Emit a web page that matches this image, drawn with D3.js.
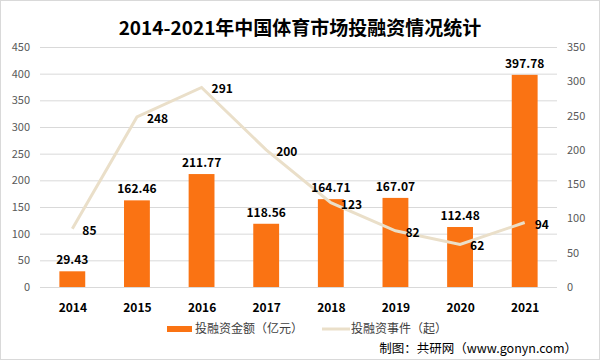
<!DOCTYPE html>
<html><head><meta charset="utf-8">
<script src="https://cdn.jsdelivr.net/npm/d3@7"></script>
<style>
html,body{margin:0;padding:0;background:#fff;}
svg{display:block;}
</style></head>
<body>
<svg id="c" width="600" height="360"></svg>
<script>
const years = ["2014","2015","2016","2017","2018","2019","2020","2021"];
const amounts = [29.43,162.46,211.77,118.56,164.71,167.07,112.48,397.78];
const events = [85,248,291,200,123,82,62,94];
const leftTicks = [0,50,100,150,200,250,300,350,400,450];
const rightTicks = [0,50,100,150,200,250,300,350];
const title = "2014-2021年中国体育市场投融资情况统计";
const legendBar = "投融资金额（亿元）";
const legendLine = "投融资事件（起）";
const source = "制图：共研网（www.gonyn.com）";

const svg = d3.select("#c");
const W = 600, H = 360;
const m = {l:40, r:43, t:47, b:73};
const pw = W - m.l - m.r, ph = H - m.t - m.b;
const font = "'Noto Sans CJK SC','Liberation Sans',sans-serif";

svg.append("rect").attr("x",0.5).attr("y",0.5).attr("width",W-1).attr("height",H-1)
  .attr("fill","#fff").attr("stroke","#d9d9d9");

const x = d3.scaleBand().domain(years).range([m.l, m.l+pw]).paddingInner(0.6).paddingOuter(0.3);
const xc = d3.scalePoint().domain(years).range([m.l, m.l+pw]).padding(0.5);
const yL = d3.scaleLinear().domain([0,450]).range([m.t+ph, m.t]);
const yR = d3.scaleLinear().domain([0,350]).range([m.t+ph, m.t]);

// grid
svg.append("g").selectAll("line").data(leftTicks).join("line")
  .attr("x1",m.l).attr("x2",m.l+pw)
  .attr("y1",d=>yL(d)+0.5).attr("y2",d=>yL(d)+0.5)
  .attr("stroke","#d9d9d9").attr("stroke-width",1);

// left axis
const ga = svg.append("g").attr("transform",`translate(${m.l-10},0)`)
  .call(d3.axisLeft(yL).tickValues(leftTicks).tickSize(0).tickPadding(0));
ga.select(".domain").remove();
ga.selectAll("text").attr("font-family",font).attr("font-size",11).attr("fill","#595959");

const gr = svg.append("g").attr("transform",`translate(${m.l+pw+10},0)`)
  .call(d3.axisRight(yR).tickValues(rightTicks).tickSize(0).tickPadding(0));
gr.select(".domain").remove();
gr.selectAll("text").attr("font-family",font).attr("font-size",11).attr("fill","#595959");

// x axis labels
const gx = svg.append("g").attr("transform",`translate(0,${m.t+ph+11})`)
  .call(d3.axisBottom(xc).tickSize(0).tickPadding(5));
gx.select(".domain").remove();
gx.selectAll("text").attr("font-family",font).attr("font-size",12).attr("font-weight","bold").attr("fill","#000");

// bars
svg.append("g").selectAll("rect").data(amounts).join("rect")
  .attr("x",(d,i)=>x(years[i])).attr("width",x.bandwidth())
  .attr("y",d=>yL(d)).attr("height",d=>yL(0)-yL(d))
  .attr("fill","#fa7313");

// line
const line = d3.line().x((d,i)=>xc(years[i])).y(d=>yR(d));
svg.append("path").datum(events).attr("d",line)
  .attr("fill","none").attr("stroke","#eadfc9").attr("stroke-width",3);

// bar labels
svg.append("g").selectAll("text").data(amounts).join("text")
  .attr("x",(d,i)=>x(years[i])+x.bandwidth()/2).attr("y",d=>yL(d)-7)
  .attr("text-anchor","middle").attr("font-family",font).attr("font-size",12)
  .attr("font-weight","bold").attr("fill","#000").text(d=>d.toFixed(2));

// line labels
svg.append("g").selectAll("text").data(events).join("text")
  .attr("x",(d,i)=>xc(years[i])+10).attr("y",d=>yR(d)+6)
  .attr("font-family",font).attr("font-size",12)
  .attr("font-weight","bold").attr("fill","#000").text(d=>d);

// title
svg.append("text").attr("x",300).attr("y",35).attr("text-anchor","middle")
  .attr("font-family",font).attr("font-size",19).attr("font-weight","bold").attr("fill","#000")
  .text(title);

// legend
const ly = 329;
svg.append("rect").attr("x",167).attr("y",ly-3).attr("width",25).attr("height",6).attr("fill","#fa7313");
svg.append("text").attr("x",195).attr("y",ly+4).attr("font-family",font).attr("font-size",12).attr("fill","#404040").text(legendBar);
svg.append("line").attr("x1",322).attr("x2",350).attr("y1",ly).attr("y2",ly).attr("stroke","#eadfc9").attr("stroke-width",3);
svg.append("text").attr("x",351).attr("y",ly+4).attr("font-family",font).attr("font-size",12).attr("fill","#404040").text(legendLine);

svg.append("text").attr("x",577).attr("y",353).attr("text-anchor","end")
  .attr("font-family",font).attr("font-size",12.5).attr("fill","#000").text(source);
</script>
</body></html>
